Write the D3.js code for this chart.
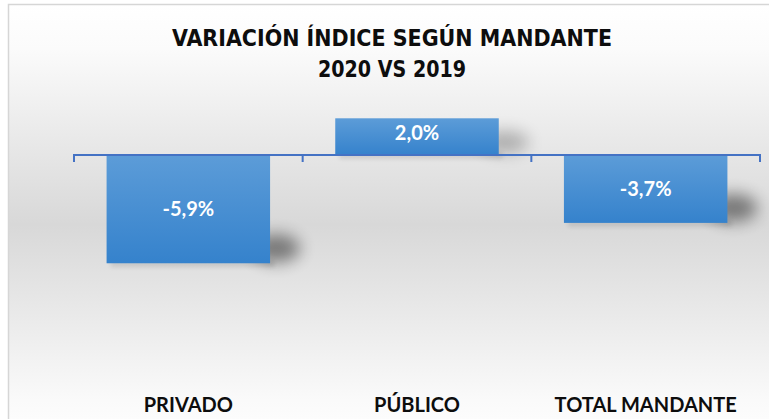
<!DOCTYPE html>
<html><head><meta charset="utf-8">
<script src="https://cdn.jsdelivr.net/npm/d3@7"></script>
<style>html,body{margin:0;padding:0;background:#fff;overflow:hidden}svg{display:block}</style>
</head><body>
<svg id="c" width="769" height="419"></svg>
<script>
const categories = ["PRIVADO", "PÚBLICO", "TOTAL MANDANTE"];
const values = [-5.9, 2.0, -3.7];
const valueLabels = ["-5,9%", "2,0%", "-3,7%"];
const titleLines = ["VARIACIÓN ÍNDICE SEGÚN MANDANTE", "2020 VS 2019"];

const svg = d3.select("#c");
const defs = svg.append("defs");

const bg = defs.append("linearGradient").attr("id","bg").attr("x1",0).attr("y1",0).attr("x2",0).attr("y2",1);
bg.append("stop").attr("offset","0%").attr("stop-color","#ffffff");
bg.append("stop").attr("offset","10%").attr("stop-color","#fbfbfb");
bg.append("stop").attr("offset","50%").attr("stop-color","#d8d8d8");
bg.append("stop").attr("offset","90%").attr("stop-color","#fafafa");
bg.append("stop").attr("offset","100%").attr("stop-color","#ffffff");

const bar = defs.append("linearGradient").attr("id","bar").attr("x1",0).attr("y1",0).attr("x2",0).attr("y2",1);
bar.append("stop").attr("offset","0%").attr("stop-color","#5c9cd8");
bar.append("stop").attr("offset","100%").attr("stop-color","#3582cc");

const f = defs.append("filter").attr("id","blur").attr("filterUnits","userSpaceOnUse")
  .attr("x",0).attr("y",0).attr("width",769).attr("height",419);
f.append("feGaussianBlur").attr("stdDeviation",8);
const f2 = defs.append("filter").attr("id","blur2").attr("filterUnits","userSpaceOnUse")
  .attr("x",0).attr("y",0).attr("width",769).attr("height",419);
f2.append("feGaussianBlur").attr("stdDeviation",2);

// chart background
svg.append("rect").attr("x",8.5).attr("y",4.5).attr("width",800).attr("height",440)
  .attr("fill","url(#bg)").attr("stroke","#d6d6d6").attr("stroke-width",1.5);

const titleFont = "'Liberation Sans Narrow','DejaVu Sans Condensed',sans-serif";
svg.append("text").attr("x",392).attr("y",46).attr("text-anchor","middle")
  .attr("font-family",titleFont)
  .attr("font-weight","bold").attr("font-size",23).attr("fill","#0d0d0d")
  .attr("textLength",440).attr("lengthAdjust","spacingAndGlyphs").text(titleLines[0]);
svg.append("text").attr("x",392).attr("y",77).attr("text-anchor","middle")
  .attr("font-family",titleFont)
  .attr("font-weight","bold").attr("font-size",23).attr("fill","#0d0d0d")
  .attr("textLength",148).attr("lengthAdjust","spacingAndGlyphs").text(titleLines[1]);

const x = d3.scaleBand().domain(categories).range([74, 760]).paddingInner(0.285).paddingOuter(0.1425);
const y = d3.scaleLinear().domain([-10, 4]).range([338.5, 81.6]);
const x0 = d3.scaleBand().domain(categories).range([74, 760]);

const barTop = d=>y(Math.max(0,d));
const barBot = d=>y(Math.min(0,d));
const barRight = i=>x(categories[i])+x.bandwidth();

// shadows (soft, bottom-right)
const sh = svg.append("g");
sh.selectAll("ellipse").data(values).join("ellipse")
  .attr("cx",(d,i)=>barRight(i)+6)
  .attr("cy",d=>barBot(d)-Math.min(15,(barBot(d)-barTop(d))*0.35))
  .attr("rx",24)
  .attr("ry",d=>Math.min(14,(barBot(d)-barTop(d))*0.3))
  .attr("fill","#000").attr("opacity",d=>d>0?0.25:0.45).attr("filter","url(#blur)");
sh.selectAll("rect.s2").data(values).join("rect").attr("class","s2")
  .attr("x",(d,i)=>x(categories[i])+4)
  .attr("width",x.bandwidth())
  .attr("y",d=>barBot(d)-3)
  .attr("height",7)
  .attr("fill","#000").attr("opacity",0.1).attr("filter","url(#blur2)");

// bars
svg.append("g").selectAll("rect").data(values).join("rect")
  .attr("x",(d,i)=>x(categories[i]))
  .attr("width",x.bandwidth())
  .attr("y",barTop)
  .attr("height",d=>barBot(d)-barTop(d))
  .attr("fill","url(#bar)");

// axis
const axisG = svg.append("g").attr("transform",`translate(0,${y(0)})`);
axisG.append("line").attr("x1",74).attr("x2",760).attr("stroke","#4472c4").attr("stroke-width",2);
const tickPos = categories.map(c=>x0(c)).concat([760]);
axisG.selectAll("line.t").data(tickPos).join("line").attr("class","t")
  .attr("x1",d=>d).attr("x2",d=>d).attr("y1",-1).attr("y2",7)
  .attr("stroke","#4472c4").attr("stroke-width",2);

// value labels
svg.append("g").selectAll("text").data(values).join("text")
  .attr("x",(d,i)=>x(categories[i])+x.bandwidth()/2)
  .attr("y",d=>(barTop(d)+barBot(d))/2 + 7 - (d>0?4:0))
  .attr("text-anchor","middle")
  .attr("font-family","Lato,'Open Sans',sans-serif").attr("font-weight","bold")
  .attr("font-size",20).attr("fill","#fff")
  .text((d,i)=>valueLabels[i]);

// category labels
svg.append("g").selectAll("text").data(categories).join("text")
  .attr("x",d=>x0(d)+x0.bandwidth()/2)
  .attr("y",412).attr("text-anchor","middle")
  .attr("font-family","Lato,'Open Sans',sans-serif").attr("font-weight","bold")
  .attr("font-size",20).attr("fill","#0d0d0d")
  .text(d=>d);
</script>
</body></html>
